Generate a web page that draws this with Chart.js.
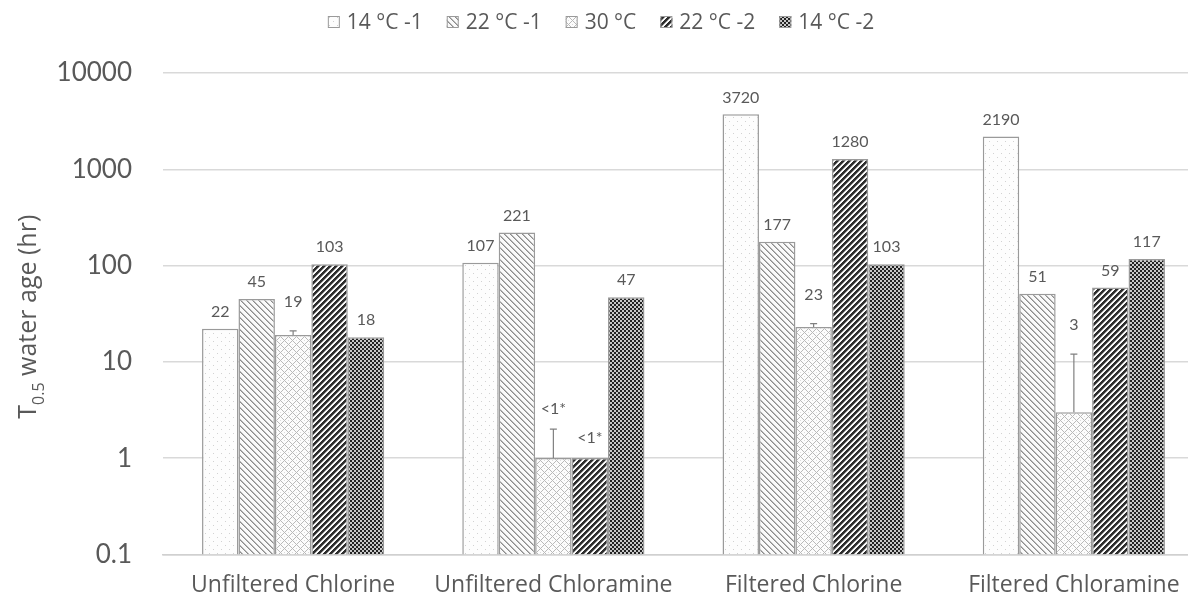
<!DOCTYPE html>
<html>
<head>
<meta charset="utf-8">
<script src="https://cdn.jsdelivr.net/npm/chart.js@4.4.1/dist/chart.umd.min.js"></script>
<style>
  html, body { margin: 0; padding: 0; background: #fff; overflow: hidden; }
  #wrap { position: relative; width: 1204px; height: 618px; }
</style>
</head>
<body>
<div id="wrap"><canvas id="c" width="1204" height="618"></canvas></div>
<script>
// Half-life (T0.5) water age, hours, per treatment and temperature run
const categories = ['Unfiltered Chlorine', 'Unfiltered Chloramine', 'Filtered Chlorine', 'Filtered Chloramine'];
const seriesNames = ['14 °C -1', '22 °C -1', '30 °C', '22 °C -2', '14 °C -2'];
const t14a = [22, 107, 3720, 2190];
const t22a = [45, 221, 177, 51];
const t30  = [19, 1, 23, 3];
const t22b = [103, 1, 1280, 59];
const t14b = [18, 47, 103, 117];
const t30ErrUpper = [21, 2, 25, 12];
const yTicks = [0.1, 1, 10, 100, 1000, 10000];

const FONT = 'Lato';
const FONT2 = '"Open Sans"';
const TEXT = '#595959';
const canvas = document.getElementById('c');
const mainCtx = canvas.getContext('2d');

// Build a repeating greyscale fill from a per-pixel function
function tile(size, fn) {
  const c = document.createElement('canvas');
  c.width = size; c.height = size;
  const g = c.getContext('2d');
  const img = g.createImageData(size, size);
  for (let y = 0; y < size; y++) {
    for (let x = 0; x < size; x++) {
      const v = fn(x, y);
      const i = (y * size + x) * 4;
      img.data[i] = img.data[i + 1] = img.data[i + 2] = v;
      img.data[i + 3] = 255;
    }
  }
  g.putImageData(img, 0, 0);
  return mainCtx.createPattern(c, 'repeat');
}
const mod = (a, n) => ((a % n) + n) % n;

const fillDots = tile(8, (x, y) => ((x === 1 && y === 1) || (x === 5 && y === 5)) ? 210 : 253);
const fillLightBack = tile(6, (x, y) => { const d = mod(x - y, 6); return d === 0 ? 140 : (d === 1 ? 185 : 250); });
const fillLattice = tile(8, (x, y) => { const a = mod(x + y, 8), b = mod(x - y, 8); return (a === 0 || b === 0) ? 185 : ((a === 4 && b === 4) ? 220 : 252); });
const fillDarkFwd = tile(6, (x, y) => { const d = mod(x + y, 6); return d < 3 ? 45 : (d === 3 ? 150 : 250); });
const fillChecker = tile(4, (x, y) => (((x >> 1) + (y >> 1)) & 1) ? 35 : 200);

const BORDER = '#9a9a9a';
const datasets = [
  { label: seriesNames[0], data: t14a, backgroundColor: fillDots },
  { label: seriesNames[1], data: t22a, backgroundColor: fillLightBack },
  { label: seriesNames[2], data: t30,  backgroundColor: fillLattice, errUpper: t30ErrUpper },
  { label: seriesNames[3], data: t22b, backgroundColor: fillDarkFwd },
  { label: seriesNames[4], data: t14b, backgroundColor: fillChecker }
].map(d => Object.assign(d, {
  borderColor: BORDER, borderWidth: 1.5,
  categoryPercentage: 0.7, barPercentage: 1.0
}));

// Legend row across the top
const legendRow = {
  id: 'legendRow',
  afterDraw(chart) {
    const ctx = chart.ctx;
    ctx.save();
    ctx.font = `21px ${FONT2}`;
    const box = 12, gapText = 7, gapItem = 24;
    const widths = chart.data.datasets.map(d => box + gapText + ctx.measureText(d.label).width);
    const total = widths.reduce((a, b) => a + b, 0) + gapItem * (widths.length - 1);
    let x = 601 - total / 2;
    const yc = 22;
    chart.data.datasets.forEach((d, i) => {
      ctx.fillStyle = d.backgroundColor;
      ctx.fillRect(x, yc - box / 2, box, box);
      ctx.strokeStyle = BORDER; ctx.lineWidth = 1;
      ctx.strokeRect(x + 0.5, yc - box / 2 + 0.5, box - 1, box - 1);
      ctx.fillStyle = TEXT; ctx.textBaseline = 'middle'; ctx.textAlign = 'left';
      ctx.fillText(d.label, x + box + gapText, yc + 1);
      x += widths[i] + gapItem;
    });
    ctx.restore();
  }
};

// Upper error whiskers and value labels above the bars
const barDecor = {
  id: 'barDecor',
  afterDatasetsDraw(chart) {
    const ctx = chart.ctx;
    const ys = chart.scales.y;
    ctx.save();
    chart.data.datasets.forEach((ds, di) => {
      const meta = chart.getDatasetMeta(di);
      meta.data.forEach((bar, i) => {
        const v = ds.data[i];
        let top = bar.y;
        let gap = 17;
        if (ds.errUpper) {
          const ey = ys.getPixelForValue(ds.errUpper[i]);
          ctx.strokeStyle = '#808080'; ctx.lineWidth = 1.2;
          ctx.beginPath();
          ctx.moveTo(bar.x, bar.y); ctx.lineTo(bar.x, ey);
          ctx.moveTo(bar.x - 3.5, ey); ctx.lineTo(bar.x + 3.5, ey);
          ctx.stroke();
          top = ey; gap = 29;
        }
        if (v <= 1) gap = 20;
        ctx.font = `16px ${FONT}`;
        ctx.fillStyle = TEXT; ctx.textAlign = 'center'; ctx.textBaseline = 'middle';
        ctx.fillText(v <= 1 ? '<1*' : String(v), bar.x, top - gap);
      });
    });
    ctx.restore();
  }
};

// Rotated axis title with a subscript
const yTitle = {
  id: 'yTitle',
  afterDraw(chart) {
    const ctx = chart.ctx, a = chart.chartArea;
    ctx.save();
    ctx.translate(0, (a.top + a.bottom) / 2 + 3);
    ctx.rotate(-Math.PI / 2);
    ctx.fillStyle = TEXT; ctx.textBaseline = 'alphabetic'; ctx.textAlign = 'left';
    const big = `25px ${FONT2}`, small = `16px ${FONT2}`;
    ctx.font = big;
    const wT = ctx.measureText('T').width;
    const wRest = ctx.measureText(' water age (hr)').width;
    ctx.font = small;
    const wSub = ctx.measureText('0.5').width;
    let x = -(wT + wSub + wRest) / 2;
    const base = 36;
    ctx.font = big; ctx.fillText('T', x, base); x += wT;
    ctx.font = small; ctx.fillText('0.5', x, base + 8); x += wSub;
    ctx.font = big; ctx.fillText(' water age (hr)', x, base);
    ctx.restore();
  }
};

new Chart(canvas, {
  type: 'bar',
  data: { labels: categories, datasets },
  options: {
    responsive: false,
    animation: false,
    layout: { padding: { top: 73, left: 0, right: 0, bottom: 2 } },
    plugins: { legend: { display: false }, tooltip: { enabled: false } },
    scales: {
      x: {
        type: 'category',
        offset: true,
        grid: { display: false, drawTicks: false },
        border: { display: true, color: '#d0d0d0', width: 1.5 },
        ticks: { font: { family: FONT2, size: 23 }, color: TEXT, padding: 17, maxRotation: 0, autoSkip: false }
      },
      y: {
        type: 'logarithmic',
        min: 0.1, max: 10000,
        afterBuildTicks(s) { s.ticks = yTicks.map(v => ({ value: v })); },
        afterFit(s) { s.width = 163; },
        grid: { color: '#d9d9d9', lineWidth: 1.5, drawTicks: false },
        border: { display: false },
        ticks: {
          font: { family: FONT, size: 26 }, color: TEXT, padding: 31,
          callback: v => String(v)
        }
      }
    }
  },
  plugins: [legendRow, barDecor, yTitle]
});
</script>
</body>
</html>
